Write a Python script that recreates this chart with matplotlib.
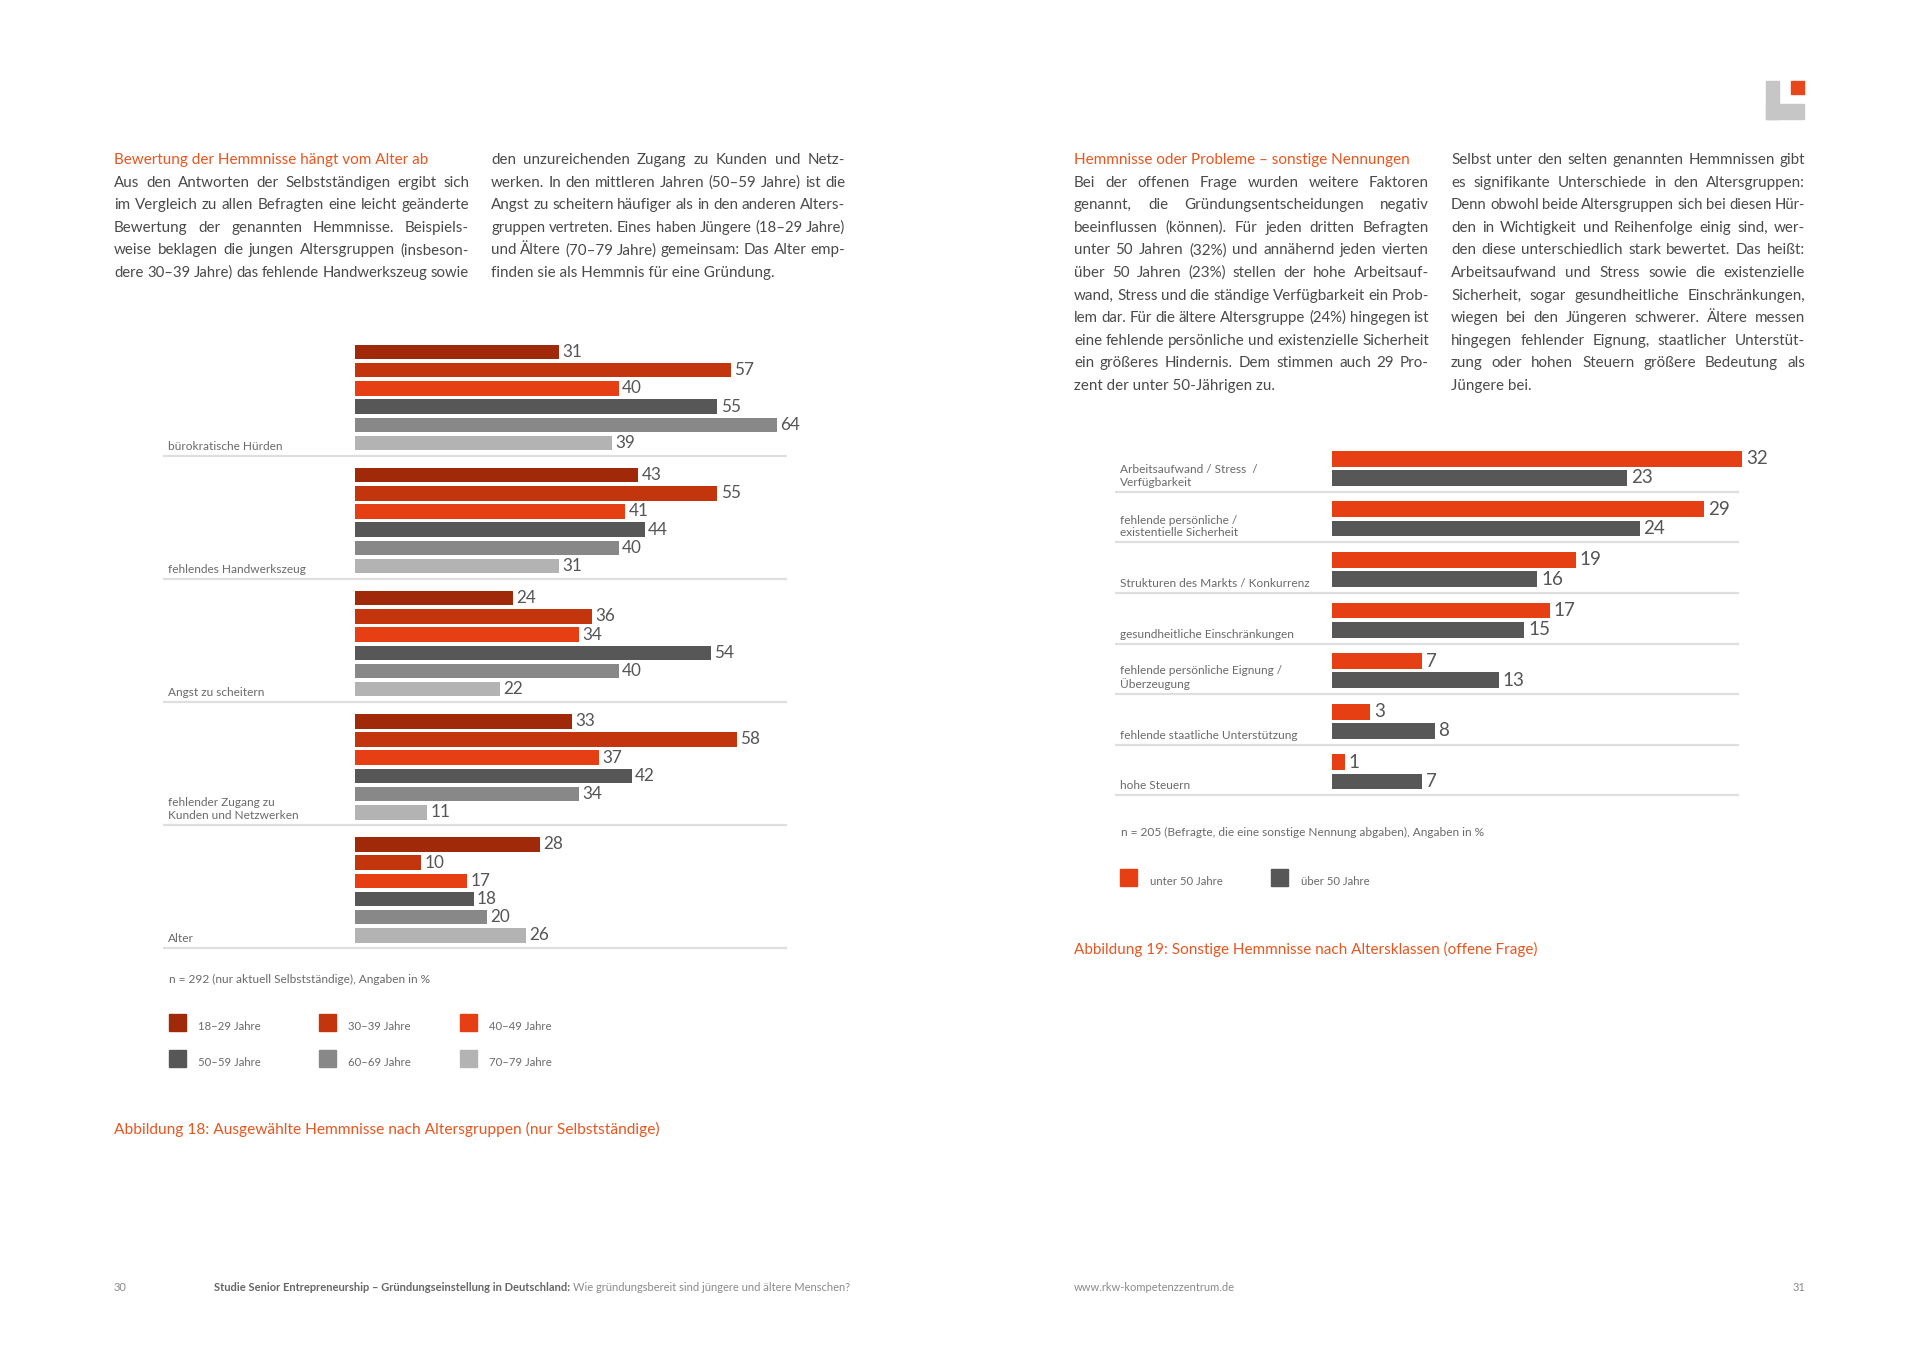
import numpy as np
import matplotlib
matplotlib.use('Agg')
import matplotlib.pyplot as plt
from matplotlib.patches import Rectangle

plt.rcParams['font.family'] = ['Lato', 'DejaVu Sans']

# ---------------- data ----------------
hemmnisse = ['bürokratische Hürden', 'fehlendes Handwerkszeug', 'Angst zu scheitern',
             'fehlender Zugang zu\nKunden und Netzwerken', 'Alter']
altersgruppen = ['18–29 Jahre', '30–39 Jahre', '40–49 Jahre',
                 '50–59 Jahre', '60–69 Jahre', '70–79 Jahre']
werte_18_29 = [31, 43, 24, 33, 28]
werte_30_39 = [57, 55, 36, 58, 10]
werte_40_49 = [40, 41, 34, 37, 17]
werte_50_59 = [55, 44, 54, 42, 18]
werte_60_69 = [64, 40, 40, 34, 20]
werte_70_79 = [39, 31, 22, 11, 26]

sonstige = ['Arbeitsaufwand / Stress  /\nVerfügbarkeit',
            'fehlende persönliche /\nexistentielle Sicherheit',
            'Strukturen des Markts / Konkurrenz',
            'gesundheitliche Einschränkungen',
            'fehlende persönliche Eignung /\nÜberzeugung',
            'fehlende staatliche Unterstützung',
            'hohe Steuern']
unter_50 = [32, 29, 19, 17, 7, 3, 1]
ueber_50 = [23, 24, 16, 15, 13, 8, 7]
gruppen_2 = ['unter 50 Jahre', 'über 50 Jahre']

farben_alter = ['#a0290a', '#c3360d', '#e63f14', '#575757', '#888888', '#b3b3b3']
farben_2 = ['#e63f14', '#575757']
ORANGE = '#e8561f'
TEXT = '#4a4a4a'
GRAU = '#6a6a6a'
LINIE = '#dedede'

W, H = 1920, 1358
fig = plt.figure(figsize=(19.2, 13.58), dpi=100)
fig.patch.set_facecolor('white')
renderer = fig.canvas.get_renderer()


def px(x, y):
    return x / W, 1 - y / H


# ---------------- left chart ----------------
ax1 = fig.add_axes([163 / W, 1 - 960 / H, (787 - 163) / W, (960 - 330) / H])
ppu1 = 6.59
ax1.set_xlim(-(355 - 163) / ppu1, (787 - 355) / ppu1)
slot1 = 18.2
ax1.set_ylim((960 - 330) / slot1, 0)
ax1.axis('off')
start1 = (352 - 330) / slot1 + np.arange(len(hemmnisse)) * (123.1 / slot1)
reihen = [werte_18_29, werte_30_39, werte_40_49, werte_50_59, werte_60_69, werte_70_79]
for j, (vals, col) in enumerate(zip(reihen, farben_alter)):
    y = start1 + j
    ax1.barh(y, vals, height=0.8, color=col)
    for yy, v in zip(y, vals):
        ax1.text(v + 0.5, yy, str(v), va='center', ha='left', fontsize=12.3, color='#555555')
sep1 = start1 + 5.69
ax1.hlines(sep1, ax1.get_xlim()[0], ax1.get_xlim()[1], color=LINIE, lw=1.6)
for s, lab in zip(sep1, hemmnisse):
    ax1.text(0.008, s - 0.21, lab, transform=ax1.get_yaxis_transform(), va='bottom',
             ha='left', fontsize=8.6, color=GRAU, linespacing=1.2)

# ---------------- right chart ----------------
ax2 = fig.add_axes([1115 / W, 1 - 810 / H, (1745 - 1115) / W, (810 - 440) / H])
ppu2 = 12.82
ax2.set_xlim(-(1332 - 1115) / ppu2, (1745 - 1332) / ppu2)
slot2 = 19.2
ax2.set_ylim((810 - 440) / slot2, 0)
ax2.axis('off')
start2 = (458.7 - 440) / slot2 + np.arange(len(sonstige)) * (50.6 / slot2)
for j, (vals, col) in enumerate(zip([unter_50, ueber_50], farben_2)):
    y = start2 + j
    ax2.barh(y, vals, height=0.83, color=col)
    for yy, v in zip(y, vals):
        ax2.text(v + 0.3, yy, str(v), va='center', ha='left', fontsize=13.5,
                 color='#555555', clip_on=False)
sep2 = start2 + 1.72
ax2.hlines(sep2, ax2.get_xlim()[0], (1739 - 1332) / ppu2, color=LINIE, lw=1.6)
for s, lab in zip(sep2, sonstige):
    ax2.text(0.008, s - 0.2, lab, transform=ax2.get_yaxis_transform(), va='bottom',
             ha='left', fontsize=8.6, color=GRAU, linespacing=1.2)


# ---------------- body text ----------------
def absatz(x_l, x_r, y0, zeilen, blocksatz_ende=False, size=10.9):
    for k, zeile in enumerate(zeilen):
        y = y0 + k * 22.6
        woerter = zeile.split(' ')
        letzte = k == len(zeilen) - 1 and not blocksatz_ende
        if letzte or len(woerter) == 1:
            fig.text(*px(x_l, y), zeile, fontsize=size, color=TEXT, va='baseline')
            continue
        gr = size
        while True:
            texte = [fig.text(0, 0, w, fontsize=gr, color=TEXT, va='baseline') for w in woerter]
            breiten = [t.get_window_extent(renderer).width for t in texte]
            luecke = (x_r - x_l - sum(breiten)) / (len(woerter) - 1)
            if luecke >= 3.2 or gr < size - 2:
                break
            for t in texte:
                t.remove()
            gr -= 0.1
        x = x_l
        for t, b in zip(texte, breiten):
            t.set_position(px(x, y))
            x += b + luecke


fig.text(*px(114, 164), 'Bewertung der Hemmnisse hängt vom Alter ab', fontsize=11,
         color=ORANGE, va='baseline')
absatz(114, 469, 164 + 22.6, [
    'Aus den Antworten der Selbstständigen ergibt sich',
    'im Vergleich zu allen Befragten eine leicht geänderte',
    'Bewertung der genannten Hemmnisse. Beispiels-',
    'weise beklagen die jungen Altersgruppen (insbeson-',
    'dere 30–39 Jahre) das fehlende Handwerkszeug sowie'], blocksatz_ende=True)
absatz(491, 845, 164, [
    'den unzureichenden Zugang zu Kunden und Netz-',
    'werken. In den mittleren Jahren (50–59 Jahre) ist die',
    'Angst zu scheitern häufiger als in den anderen Alters-',
    'gruppen vertreten. Eines haben Jüngere (18–29 Jahre)',
    'und Ältere (70–79 Jahre) gemeinsam: Das Alter emp-',
    'finden sie als Hemmnis für eine Gründung.'])

fig.text(*px(1074, 164), 'Hemmnisse oder Probleme – sonstige Nennungen', fontsize=11,
         color=ORANGE, va='baseline')
absatz(1074, 1429, 164 + 22.6, [
    'Bei der offenen Frage wurden weitere Faktoren',
    'genannt, die Gründungsentscheidungen negativ',
    'beeinflussen (können). Für jeden dritten Befragten',
    'unter 50 Jahren (32%) und annähernd jeden vierten',
    'über 50 Jahren (23%) stellen der hohe Arbeitsauf-',
    'wand, Stress und die ständige Verfügbarkeit ein Prob-',
    'lem dar. Für die ältere Altersgruppe (24%) hingegen ist',
    'eine fehlende persönliche und existenzielle Sicherheit',
    'ein größeres Hindernis. Dem stimmen auch 29 Pro-',
    'zent der unter 50-Jährigen zu.'])
absatz(1451, 1805, 164, [
    'Selbst unter den selten genannten Hemmnissen gibt',
    'es signifikante Unterschiede in den Altersgruppen:',
    'Denn obwohl beide Altersgruppen sich bei diesen Hür-',
    'den in Wichtigkeit und Reihenfolge einig sind, wer-',
    'den diese unterschiedlich stark bewertet. Das heißt:',
    'Arbeitsaufwand und Stress sowie die existenzielle',
    'Sicherheit, sogar gesundheitliche Einschränkungen,',
    'wiegen bei den Jüngeren schwerer. Ältere messen',
    'hingegen fehlender Eignung, staatlicher Unterstüt-',
    'zung oder hohen Steuern größere Bedeutung als',
    'Jüngere bei.'])

# ---------------- notes, legends, captions ----------------
fig.text(*px(169, 983), 'n = 292 (nur aktuell Selbstständige), Angaben in %',
         fontsize=8.55, color=GRAU, va='baseline')
fig.text(*px(1121, 836), 'n = 205 (Befragte, die eine sonstige Nennung abgaben), Angaben in %',
         fontsize=8.55, color=GRAU, va='baseline')


def legende(eintraege, farben, spalten_x, zeilen_y, text_dx):
    for i, (lab, col) in enumerate(zip(eintraege, farben)):
        x = spalten_x[i % len(spalten_x)]
        y = zeilen_y[i // len(spalten_x)]
        fig.add_artist(Rectangle(px(x, y + 17), 17 / W, 17 / H, color=col,
                                 transform=fig.transFigure))
        fig.text(*px(x + text_dx, y + 16), lab, fontsize=8.2, color=GRAU, va='baseline')


legende(altersgruppen, farben_alter, [169, 319, 460], [1014, 1050], 29)
legende(gruppen_2, farben_2, [1120, 1271], [869], 30)

fig.text(*px(114, 1134), 'Abbildung 18: Ausgewählte Hemmnisse nach Altersgruppen (nur Selbstständige)',
         fontsize=11.2, color=ORANGE, va='baseline')
fig.text(*px(1074, 954), 'Abbildung 19: Sonstige Hemmnisse nach Altersklassen (offene Frage)',
         fontsize=11.0, color=ORANGE, va='baseline')

# ---------------- footer ----------------
fig.text(*px(114, 1291), '30', fontsize=8, color='#8a8a8a', va='baseline')
fett = fig.text(*px(214, 1291), 'Studie Senior Entrepreneurship – Gründungseinstellung in Deutschland:',
                fontsize=8, color='#666666', fontweight='bold', va='baseline')
bw = fett.get_window_extent(renderer).width
fig.text(*px(214 + bw + 3, 1291), 'Wie gründungsbereit sind jüngere und ältere Menschen?',
         fontsize=8, color='#8a8a8a', va='baseline')
fig.text(*px(1074, 1291), 'www.rkw-kompetenzzentrum.de', fontsize=8, color='#8a8a8a', va='baseline')
fig.text(*px(1805, 1291), '31', fontsize=8, color='#8a8a8a', va='baseline', ha='right')

# ---------------- logo ----------------
for (x, y, w, h, c) in [(1766, 81, 13, 38, '#c6c6c6'), (1766, 104, 38, 15, '#c6c6c6'),
                        (1791, 81, 13, 13, '#e8461b')]:
    fig.add_artist(Rectangle(px(x, y + h), w / W, h / H, color=c, transform=fig.transFigure))

fig.savefig('out.png', dpi=100, facecolor='white')
